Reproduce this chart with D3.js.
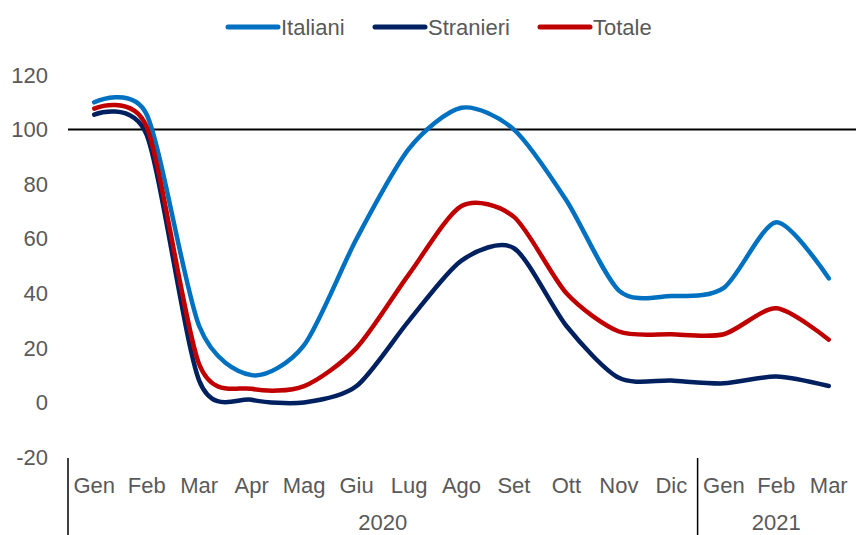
<!DOCTYPE html>
<html>
<head>
<meta charset="utf-8">
<script src="https://cdn.jsdelivr.net/npm/d3@7"></script>
<style>
  body { margin: 0; background: #fff; }
  text { font-family: "Liberation Sans", Arial, sans-serif; fill: #595959; }
</style>
</head>
<body>
<svg id="chart"></svg>
<script>
// Months (2020 + first quarter 2021)
const months = ["Gen","Feb","Mar","Apr","Mag","Giu","Lug","Ago","Set","Ott","Nov","Dic","Gen","Feb","Mar"];
const years = [{label: "2020", from: 0, to: 12}, {label: "2021", from: 12, to: 15}];

const italiani  = [110, 105.5, 28, 10, 21, 60, 93, 108, 100, 74, 41, 39, 42, 66, 45.5];
const stranieri = [105.5, 98, 8, 1, 0, 6, 30, 52, 56.5, 28, 9, 8, 7, 9.5, 6];
const totale    = [107.7, 101, 14, 5, 6, 20, 47, 72, 68, 40, 26, 25, 25, 34.5, 23];

const seriesNames = ["Italiani", "Stranieri", "Totale"];
const seriesColors = ["#0070C0", "#002060", "#C00000"];
const yTicks = [-20, 0, 20, 40, 60, 80, 100, 120];

const width = 856, height = 535;
const svg = d3.select("#chart").attr("width", width).attr("height", height);

const x = d3.scaleBand()
  .domain(d3.range(months.length))
  .range([68, 855]);

const y = d3.scaleLinear()
  .domain([-20, 120])
  .range([457, 75]);

//Y axis labels
svg.append("g").selectAll("text")
  .data(yTicks)
  .join("text")
  .attr("x", 48)
  .attr("y", d => y(d))
  .attr("dy", "0.35em")
  .attr("text-anchor", "end")
  .style("font-size", "22px")
  .text(d => d);

//Reference line at 100
svg.append("line")
  .attr("x1", 68).attr("x2", 856)
  .attr("y1", y(100)).attr("y2", y(100))
  .attr("stroke", "black")
  .attr("stroke-width", 2);

//Month labels
svg.append("g").selectAll("text")
  .data(months)
  .join("text")
  .attr("x", (d, i) => x(i) + x.bandwidth() / 2)
  .attr("y", 493)
  .attr("text-anchor", "middle")
  .style("font-size", "22px")
  .text(d => d);

//Year labels and separators
years.forEach(yr => {
  const x0 = x(yr.from);
  const x1 = yr.to < months.length ? x(yr.to) : x.range()[1];
  svg.append("text")
    .attr("x", (x0 + x1) / 2)
    .attr("y", 530)
    .attr("text-anchor", "middle")
    .style("font-size", "22px")
    .text(yr.label);
  svg.append("line")
    .attr("x1", x0).attr("x2", x0)
    .attr("y1", 458).attr("y2", 535)
    .attr("stroke", "black")
    .attr("stroke-width", 1.5);
});

//Lines
const line = d3.line()
  .x((d, i) => x(i) + x.bandwidth() / 2)
  .y(d => y(d))
  .curve(d3.curveCardinal.tension(0.2));

[italiani, stranieri, totale].forEach((s, k) => {
  svg.append("path")
    .datum(s)
    .attr("d", line)
    .attr("fill", "none")
    .attr("stroke", seriesColors[k])
    .attr("stroke-width", 4.5)
    .attr("stroke-linecap", "round");
});

//Legend
const legendX = [228, 375, 540];
seriesNames.forEach((name, k) => {
  const g = svg.append("g").attr("transform", `translate(${legendX[k]}, 27)`);
  g.append("line")
    .attr("x1", 0).attr("x2", 50)
    .attr("stroke", seriesColors[k])
    .attr("stroke-width", 5)
    .attr("stroke-linecap", "round");
  g.append("text")
    .attr("x", 53)
    .attr("dy", "0.35em")
    .style("font-size", "22px")
    .text(name);
});
</script>
</body>
</html>
